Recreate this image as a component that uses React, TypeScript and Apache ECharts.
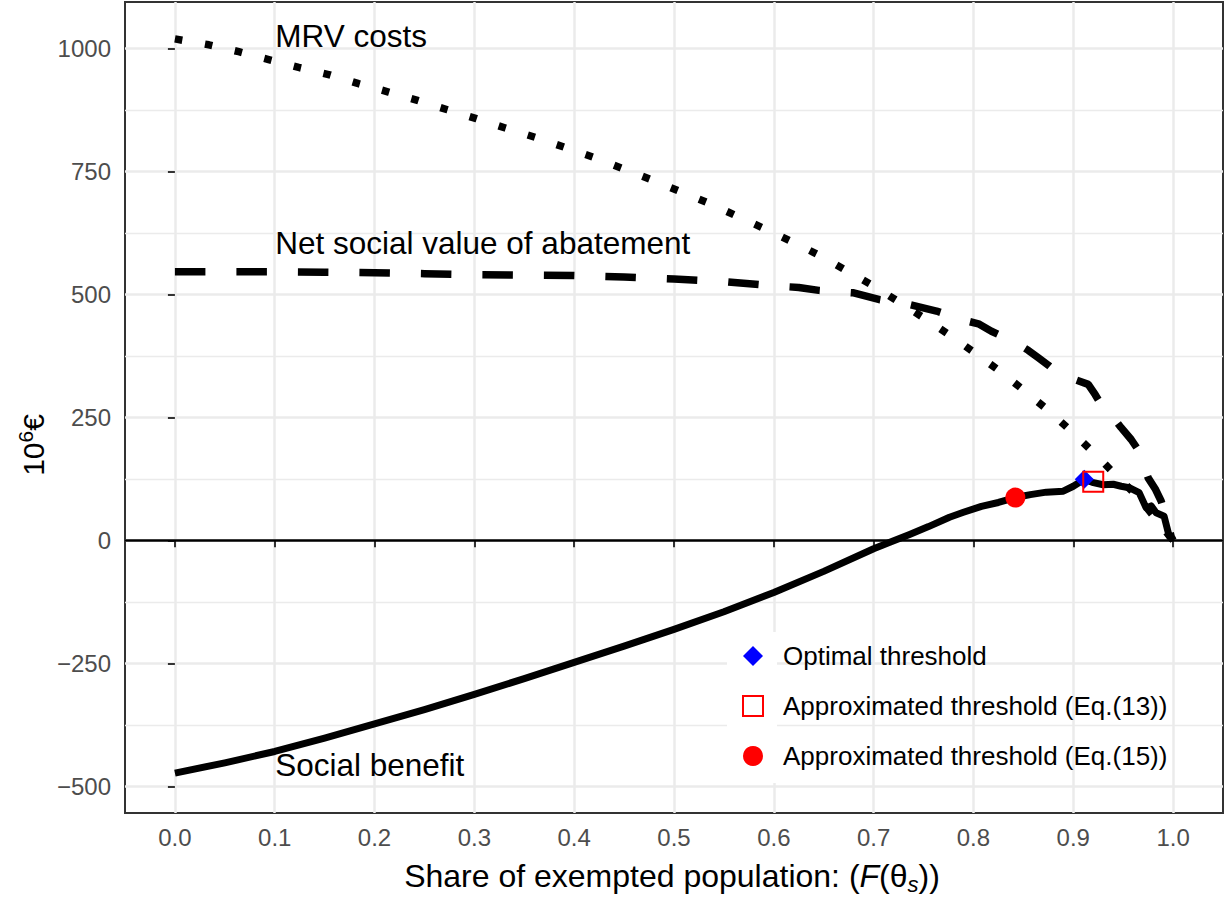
import React, { useEffect, useRef } from "react";
import * as echarts from "echarts";

const FONT = "'Liberation Sans', Arial, Helvetica, sans-serif";

const xTicks = [0, 0.1, 0.2, 0.3, 0.4, 0.5, 0.6, 0.7, 0.8, 0.9, 1.0];
const yTicks = [-500, -250, 0, 250, 500, 750, 1000];
const yMinorTicks = [-375, -125, 125, 375, 625, 875];

const mrvCosts = [
  [0, 1019], [0.034, 1007], [0.064, 993], [0.094, 977], [0.124, 961], [0.155, 946],
  [0.184, 928], [0.214, 911], [0.243, 894], [0.273, 875], [0.302, 857], [0.331, 838],
  [0.361, 819], [0.39, 799], [0.42, 778], [0.448, 756], [0.477, 733], [0.505, 710],
  [0.534, 686], [0.562, 660], [0.59, 634], [0.618, 607], [0.646, 579], [0.673, 548],
  [0.699, 518], [0.725, 485], [0.751, 451], [0.777, 416], [0.802, 380], [0.827, 343],
  [0.851, 304], [0.875, 264], [0.898, 222], [0.92, 179], [0.942, 134], [0.96, 98],
  [0.975, 63], [0.99, 25], [1.0, 0],
];

const netSocialValue = [
  [0, 546], [0.05, 546], [0.1, 546], [0.15, 545], [0.2, 544], [0.25, 542], [0.3, 540],
  [0.35, 539], [0.4, 538], [0.45, 535], [0.5, 531], [0.55, 526], [0.6, 517],
  [0.625, 514], [0.645, 508], [0.665, 505], [0.68, 503], [0.706, 489], [0.72, 484],
  [0.736, 479], [0.763, 466], [0.775, 458], [0.791, 447], [0.805, 440], [0.818, 425],
  [0.83, 414], [0.843, 401], [0.855, 386], [0.865, 371], [0.875, 356], [0.886, 337],
  [0.9, 328], [0.915, 317], [0.922, 296], [0.93, 269], [0.94, 250], [0.948, 229],
  [0.958, 205], [0.966, 181], [0.975, 127], [0.982, 105], [0.988, 80], [0.994, 40],
  [0.998, 8], [1.0, 0],
];

const socialBenefit = [
  [0, -473], [0.05, -452], [0.1, -429], [0.15, -402], [0.2, -373], [0.25, -344],
  [0.3, -313], [0.35, -281], [0.4, -248], [0.45, -215], [0.5, -181], [0.55, -145],
  [0.6, -106], [0.65, -63], [0.7, -17], [0.715, -5], [0.736, 12], [0.755, 28],
  [0.776, 47], [0.79, 57], [0.808, 69], [0.825, 77], [0.842, 87], [0.857, 93],
  [0.873, 98], [0.89, 100], [0.9, 110], [0.911, 124], [0.919, 118], [0.93, 113],
  [0.94, 114], [0.948, 110], [0.956, 107], [0.966, 97], [0.973, 66], [0.978, 70],
  [0.983, 56], [0.991, 49], [0.996, 9], [1.0, 0],
];

const optimalThreshold = [[0.911, 124]];
const approxThreshold13 = [[0.92, 119]];
const approxThreshold15 = [[0.842, 87]];

const curveLabels = [
  { name: "MRV costs", value: [0.1, 1025] },
  { name: "Net social value of abatement", value: [0.1, 605] },
  { name: "Social benefit", value: [0.1, -457] },
];

const legendNames = [
  "Optimal threshold",
  "Approximated threshold (Eq.(13))",
  "Approximated threshold (Eq.(15))",
];

export default function App() {
  const ref = useRef<HTMLDivElement>(null);
  useEffect(() => {
    const chart = echarts.init(ref.current!, null, { renderer: "svg" });
    const yMin = -554;
    const yMax = 1094;
    const option: any = {
      animation: false,
      textStyle: { fontFamily: FONT },
      grid: {
        left: 125,
        right: 2,
        top: 2,
        bottom: 90,
        show: true,
        borderColor: "#333333",
        borderWidth: 2,
        backgroundColor: "transparent",
      },
      xAxis: {
        type: "value",
        min: -0.05,
        max: 1.05,
        axisLine: { show: false },
        axisTick: {
          show: true,
          length: 7,
          lineStyle: { color: "#333333", width: 2 },
          customValues: xTicks,
        },
        axisLabel: {
          customValues: xTicks,
          formatter: (v: number) => v.toFixed(1),
          fontSize: 24,
          color: "#4D4D4D",
          margin: 12,
          fontFamily: FONT,
        },
        splitLine: { show: true, lineStyle: { color: "#EBEBEB", width: 2.5 } },
      },
      yAxis: [
        {
          type: "value",
          min: yMin,
          max: yMax,
          axisLine: { show: false },
          axisTick: {
            show: true,
            length: 7,
            lineStyle: { color: "#333333", width: 2 },
            customValues: yTicks,
          },
          axisLabel: {
            customValues: yTicks,
            fontSize: 24,
            color: "#4D4D4D",
            margin: 14,
            fontFamily: FONT,
            formatter: (v: number) => (v < 0 ? "\u2212" + Math.abs(v) : String(v)),
          },
          splitLine: { show: true, lineStyle: { color: "#EBEBEB", width: 2.5 } },
        },
        {
          type: "value",
          position: "left",
          min: yMin,
          max: yMax,
          axisLine: { show: false },
          axisTick: { show: false, customValues: yMinorTicks },
          axisLabel: { show: false, customValues: yMinorTicks },
          splitLine: { show: true, lineStyle: { color: "#EBEBEB", width: 1.4 } },
        },
      ],
      legend: {
        orient: "vertical",
        left: 742,
        top: 643,
        itemWidth: 20,
        itemHeight: 20,
        itemGap: 24,
        padding: 0,
        selectedMode: false,
        textStyle: {
          fontSize: 26,
          color: "#000",
          fontFamily: FONT,
          padding: [0, 0, 0, 15],
        },
        data: [
          { name: legendNames[0], icon: "diamond", itemStyle: { color: "#0000FF", borderWidth: 0, opacity: 1 } },
          {
            name: legendNames[1],
            icon: "rect",
            itemStyle: { color: "#FFFFFF", borderColor: "#FF0000", borderWidth: 2, opacity: 1 },
          },
          { name: legendNames[2], icon: "circle", itemStyle: { color: "#FF0000", borderWidth: 0, opacity: 1 } },
        ],
      },
      graphic: [
        {
          type: "rect",
          z: 1,
          silent: true,
          shape: { x: 727, y: 632, width: 50, height: 151 },
          style: { fill: "#FFFFFF" },
        },
        {
          type: "text",
          x: 672,
          y: 876,
          z: 10,
          style: {
            text: "{n|Share of exempted population: (}{i|F}{n|(θ}{s|s}{n|))}",
            align: "center",
            verticalAlign: "middle",
            fill: "#000",
            rich: {
              n: { fontSize: 32, lineHeight: 38, fontFamily: FONT, fill: "#000" },
              i: { fontSize: 32, lineHeight: 38, fontStyle: "italic", fontFamily: FONT, fill: "#000" },
              s: {
                fontSize: 22,
                lineHeight: 22,
                fontStyle: "italic",
                verticalAlign: "bottom",
                fontFamily: FONT,
                fill: "#000",
              },
            },
          },
        },
        {
          type: "text",
          x: 33,
          y: 445,
          z: 10,
          rotation: Math.PI / 2,
          style: {
            text: "{n|10}{sup|6}{n|€}",
            align: "center",
            verticalAlign: "middle",
            fill: "#000",
            rich: {
              n: { fontSize: 30, lineHeight: 36, fontFamily: FONT, fill: "#000" },
              sup: { fontSize: 21, lineHeight: 21, verticalAlign: "top", fontFamily: FONT, fill: "#000" },
            },
          },
        },
      ],
      series: [
        {
          name: "MRV costs",
          type: "line",
          data: mrvCosts,
          showSymbol: false,
          silent: true,
          lineStyle: { color: "#000", width: 7.5, type: [7.5, 23], cap: "butt" },
          z: 3,
        },
        {
          name: "Net social value of abatement",
          type: "line",
          data: netSocialValue,
          showSymbol: false,
          silent: true,
          lineStyle: { color: "#000", width: 7.5, type: [30.5, 31], cap: "butt" },
          z: 3,
        },
        {
          name: "Social benefit",
          type: "line",
          data: socialBenefit,
          showSymbol: false,
          silent: true,
          lineStyle: { color: "#000", width: 7, type: "solid", join: "round", cap: "butt" },
          z: 3,
          markLine: {
            silent: true,
            symbol: ["none", "none"],
            label: { show: false },
            lineStyle: { color: "#000", width: 2.5, type: "solid" },
            data: [{ yAxis: 0 }],
          },
        },
        {
          name: "labels",
          type: "scatter",
          data: curveLabels,
          symbolSize: 1,
          itemStyle: { color: "rgba(0,0,0,0)", opacity: 1 },
          silent: true,
          z: 5,
          label: {
            show: true,
            position: "right",
            distance: 0,
            formatter: "{b}",
            fontSize: 31.5,
            color: "#000",
            opacity: 1,
            fontFamily: FONT,
          },
        },
        {
          name: legendNames[0],
          type: "scatter",
          data: optimalThreshold,
          symbol: "diamond",
          symbolSize: 19,
          itemStyle: { color: "#0000FF", opacity: 1 },
          z: 6,
        },
        {
          name: legendNames[1],
          type: "scatter",
          data: approxThreshold13,
          symbol: "rect",
          symbolSize: 20,
          itemStyle: { color: "rgba(0,0,0,0)", borderColor: "#FF0000", borderWidth: 2, opacity: 1 },
          z: 6,
        },
        {
          name: legendNames[2],
          type: "scatter",
          data: approxThreshold15,
          symbol: "circle",
          symbolSize: 20,
          itemStyle: { color: "#FF0000", opacity: 1 },
          z: 6,
        },
      ],
    };
    chart.setOption(option);
    return () => chart.dispose();
  }, []);
  return (
    <div
      ref={ref}
      style={{ position: "absolute", left: 0, top: 0, width: 1225, height: 903 }}
    />
  );
}
